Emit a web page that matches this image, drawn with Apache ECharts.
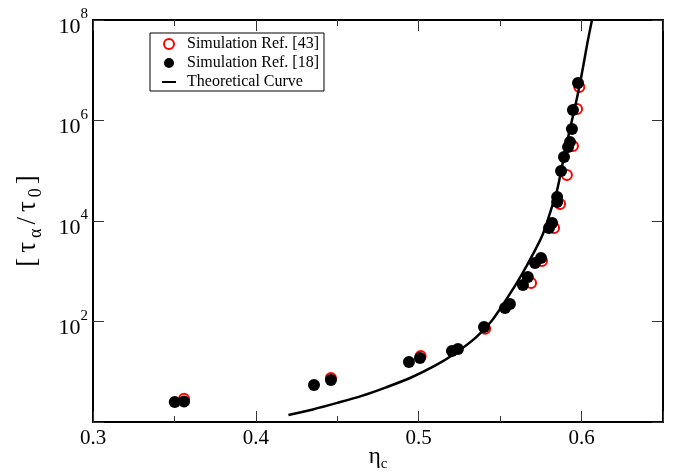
<!DOCTYPE html>
<html><head><meta charset="utf-8">
<script src="https://cdn.jsdelivr.net/npm/echarts@6/dist/echarts.min.js"></script>
<style>html,body{margin:0;padding:0;background:#fff}#c{width:673px;height:472px}</style>
</head><body><div id="c"></div>
<script>
// ---- data ----
const xTickValues = [0.3, 0.4, 0.5, 0.6];
const yTickExponents = [2, 4, 6, 8];
const ref43Name = 'Simulation Ref. [43]';
const ref18Name = 'Simulation Ref. [18]';
const theoryName = 'Theoretical Curve';
const ref43 = [
  [0.3559, 2.9], [0.4461, 7.5], [0.5012, 20.5], [0.5408, 72], [0.569, 584],
  [0.5757, 1600], [0.5831, 7250], [0.5868, 21800], [0.591, 82000],
  [0.5947, 311000], [0.5972, 1690000], [0.5986, 4640000]
];
const ref18 = [
  [0.3502, 2.5], [0.3559, 2.55], [0.4357, 5.45], [0.4461, 6.85], [0.494, 15.6],
  [0.5008, 18.8], [0.5204, 25.9], [0.5241, 28.4], [0.5401, 78], [0.553, 186],
  [0.556, 223], [0.564, 532], [0.567, 769], [0.5714, 1459], [0.5751, 1835],
  [0.580, 7250], [0.5819, 9100], [0.585, 24000], [0.585, 30000], [0.5874, 99000],
  [0.5892, 188000], [0.5917, 297000], [0.5929, 373000], [0.5941, 678000],
  [0.5947, 1620000], [0.5978, 5570000]
];
const theory = [
  [0.420, 1.38], [0.435, 1.78], [0.450, 2.40], [0.465, 3.31], [0.480, 4.90],
  [0.495, 7.59], [0.510, 13.2], [0.522, 22.9], [0.535, 47.9], [0.545, 105],
  [0.555, 316], [0.563, 832], [0.570, 2140], [0.576, 5250], [0.581, 15800],
  [0.585, 41700], [0.589, 178000], [0.5925, 603000], [0.5955, 1580000],
  [0.5985, 4470000], [0.601, 12000000], [0.6035, 33900000], [0.6064, 100000000]
];

const FONT = "'Liberation Serif','Times New Roman',serif";
const chart = echarts.init(document.getElementById('c'), null, {renderer: 'canvas'});

const frameLine = {show: true, lineStyle: {color: '#000', width: 2}};
const majorTick = {show: true, inside: true, length: 11, lineStyle: {color: '#333', width: 1}};
const minorTick = {show: true, inside: true, length: 6, lineStyle: {color: '#333', width: 1}};

function xBase(extra) {
  return Object.assign({
    type: 'value', min: 0.3, max: 0.65, interval: 0.1,
    splitLine: {show: false}, axisLine: frameLine, axisTick: majorTick,
    axisLabel: {show: false}
  }, extra);
}
function yBase(extra) {
  return Object.assign({
    type: 'log', logBase: 10, min: 1, max: 1e8, interval: 2, splitNumber: 4,
    splitLine: {show: false}, axisLine: frameLine, axisTick: majorTick,
    axisLabel: {show: false}
  }, extra);
}

chart.setOption({
  animation: false,
  backgroundColor: '#fff',
  grid: {left: 93, right: 10, top: 20, bottom: 50, containLabel: false, outerBoundsMode: 'none'},
  legend: {
    data: [ref43Name, ref18Name, {name: theoryName, itemStyle: {opacity: 0}}],
    orient: 'vertical', left: 150, top: 33,
    padding: [3, 5, 1, 11],
    itemWidth: 14, itemHeight: 10, itemGap: 3,
    borderColor: '#000', borderWidth: 1, backgroundColor: '#fff',
    selectedMode: false,
    textStyle: {fontFamily: FONT, fontSize: 16, color: '#000', lineHeight: 16, padding: [0, 0, 0, 6]}
  },
  xAxis: [
    xBase({
      position: 'bottom',
      axisLabel: {
        show: true, margin: 6, color: '#000', fontFamily: FONT, fontSize: 21,
        formatter: v => xTickValues.some(t => Math.abs(t - v) < 1e-9) ? v.toFixed(1) : ''
      },
      name: '{a|η}{s|c}', nameLocation: 'middle', nameGap: 20, nameMoveOverlap: false,
      nameTextStyle: {
        verticalAlign: 'top',
        rich: {
          a: {fontFamily: FONT, fontSize: 23, color: '#000', lineHeight: 30},
          s: {fontFamily: FONT, fontSize: 15, color: '#000', lineHeight: 14, verticalAlign: 'bottom'}
        }
      }
    }),
    xBase({position: 'bottom', interval: 0.05, axisLine: {show: false}, axisTick: minorTick}),
    xBase({position: 'top'}),
    xBase({position: 'top', interval: 0.05, axisLine: {show: false}, axisTick: minorTick})
  ],
  yAxis: [
    yBase({
      position: 'left',
      axisLabel: {
        show: true, margin: 5, padding: [14, 0, 0, 0],
        formatter: v => {
          const e = Math.round(Math.log10(v));
          return yTickExponents.indexOf(e) >= 0 ? '{b|10}{s|' + e + '}' : '';
        },
        rich: {
          b: {fontFamily: FONT, fontSize: 22, color: '#000', lineHeight: 40},
          s: {fontFamily: FONT, fontSize: 15, color: '#000', lineHeight: 14, verticalAlign: 'top'}
        }
      },
      name: '{a|[}{a|τ}{s|α}{a|/}{a|τ}{s|0}{a|]}', nameLocation: 'middle', nameGap: 48, nameRotate: 90,
      nameTextStyle: {
        rich: {
          a: {fontFamily: FONT, fontSize: 27, color: '#000', lineHeight: 34, padding: [0, 2.5, 0, 2.5]},
          s: {fontFamily: FONT, fontSize: 18, color: '#000', lineHeight: 16, verticalAlign: 'bottom', padding: [0, 1.5, 0, 1.5]}
        }
      }
    }),
    yBase({position: 'right'})
  ],
  series: [
    {
      name: ref43Name, type: 'scatter', data: ref43, symbol: 'circle', symbolSize: 10,
      itemStyle: {color: 'rgba(0,0,0,0)', borderColor: '#f00', borderWidth: 2, opacity: 1}, z: 2
    },
    {
      name: ref18Name, type: 'scatter', data: ref18, symbol: 'circle', symbolSize: 12,
      itemStyle: {color: '#000', opacity: 1}, z: 3
    },
    {
      name: theoryName, type: 'line', data: theory, smooth: 0.3, showSymbol: false, symbol: 'none',
      lineStyle: {color: '#000', width: 2.5}, itemStyle: {color: '#000'}, z: 4, clip: true
    }
  ]
});
</script>
</body></html>
